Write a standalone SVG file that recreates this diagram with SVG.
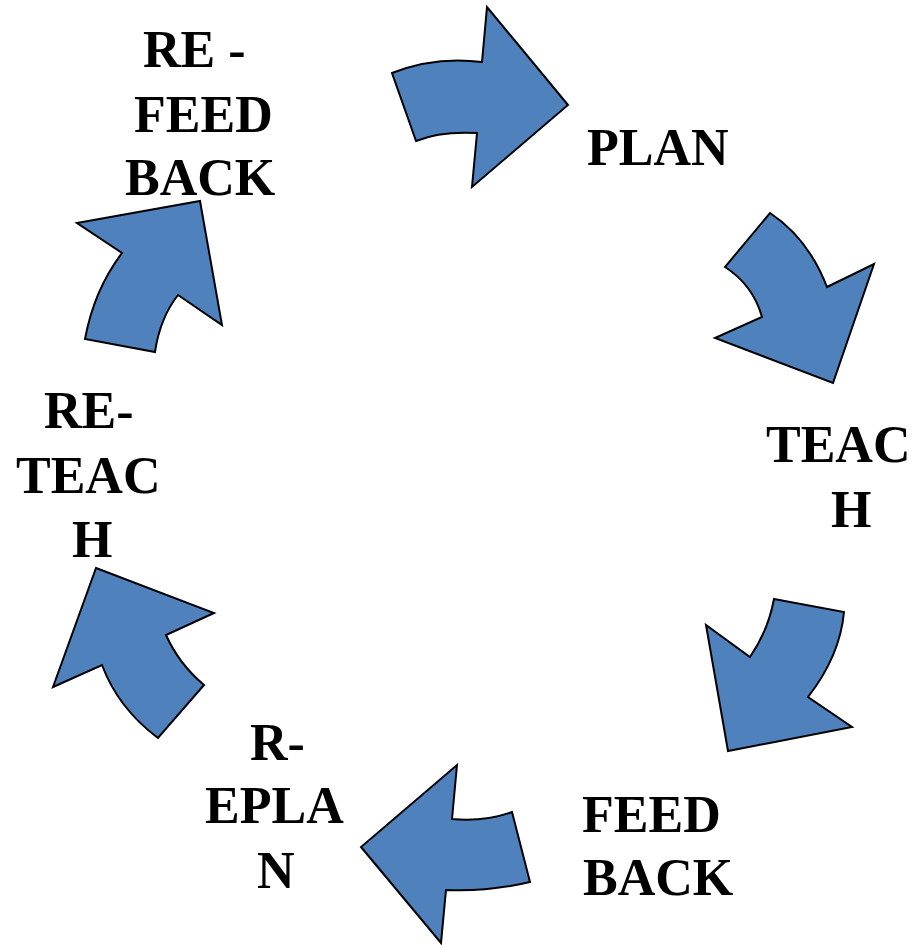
<svg xmlns="http://www.w3.org/2000/svg" width="915" height="945" viewBox="0 0 915 945">
<style>
.arr{fill:#4F81BD;stroke:#000;stroke-width:2;stroke-linejoin:miter}
.lbl{font-family:"Liberation Serif","Times New Roman",serif;font-weight:bold;font-size:52px;fill:#000}
</style>
<rect width="915" height="945" fill="#fff"/>
<g id="connectors">
<path id="arrow1" class="arr" d="M392,73 Q435,56 482,62 L487,7 L568,105 L472,187 L477,133 Q440,131 416,141 Z"/>
<path id="arrow2" class="arr" d="M770,213 Q808,238 827,287 L874,264 L833,383 L715,338 L762,317 Q753,285 725,267 Z"/>
<path id="arrow3" class="arr" d="M774,599 L844,612 Q840,656 808,697 L852,727 L728,751 L706,625 L750,657 Q768,631 774,599 Z"/>
<path id="arrow4" class="arr" d="M457,765 L452,819 Q484,822 512,812 L530,882 Q488,892 446,890 L441,943 L361,847 Z"/>
<path id="arrow5" class="arr" d="M96,568 L214,613 L166,635 Q179,664 204,685 L158,738 Q118,708 102,665 L53,687 Z"/>
<path id="arrow6" class="arr" d="M77,223 L200,201 L222,325 L178,295 Q160,318 155,352 L85,339 Q94,290 122,253 Z"/>
</g>
<g id="node-plan"><text class="lbl" x="587" y="165">PLAN</text></g>
<g id="node-teach"><text class="lbl" x="766" y="462">TEAC</text><text class="lbl" x="831" y="527">H</text></g>
<g id="node-feedback"><text class="lbl" x="582" y="832">FEED</text><text class="lbl" x="583" y="895">BACK</text></g>
<g id="node-replan"><text class="lbl" x="250" y="760">R-</text><text class="lbl" x="205" y="823">EPLA</text><text class="lbl" x="257" y="888">N</text></g>
<g id="node-reteach"><text class="lbl" x="44" y="428">RE-</text><text class="lbl" x="16" y="493">TEAC</text><text class="lbl" x="72" y="557">H</text></g>
<g id="node-refeedback"><text class="lbl" x="143" y="67">RE -</text><text class="lbl" x="134" y="132">FEED</text><text class="lbl" x="125" y="195">BACK</text></g>
</svg>
